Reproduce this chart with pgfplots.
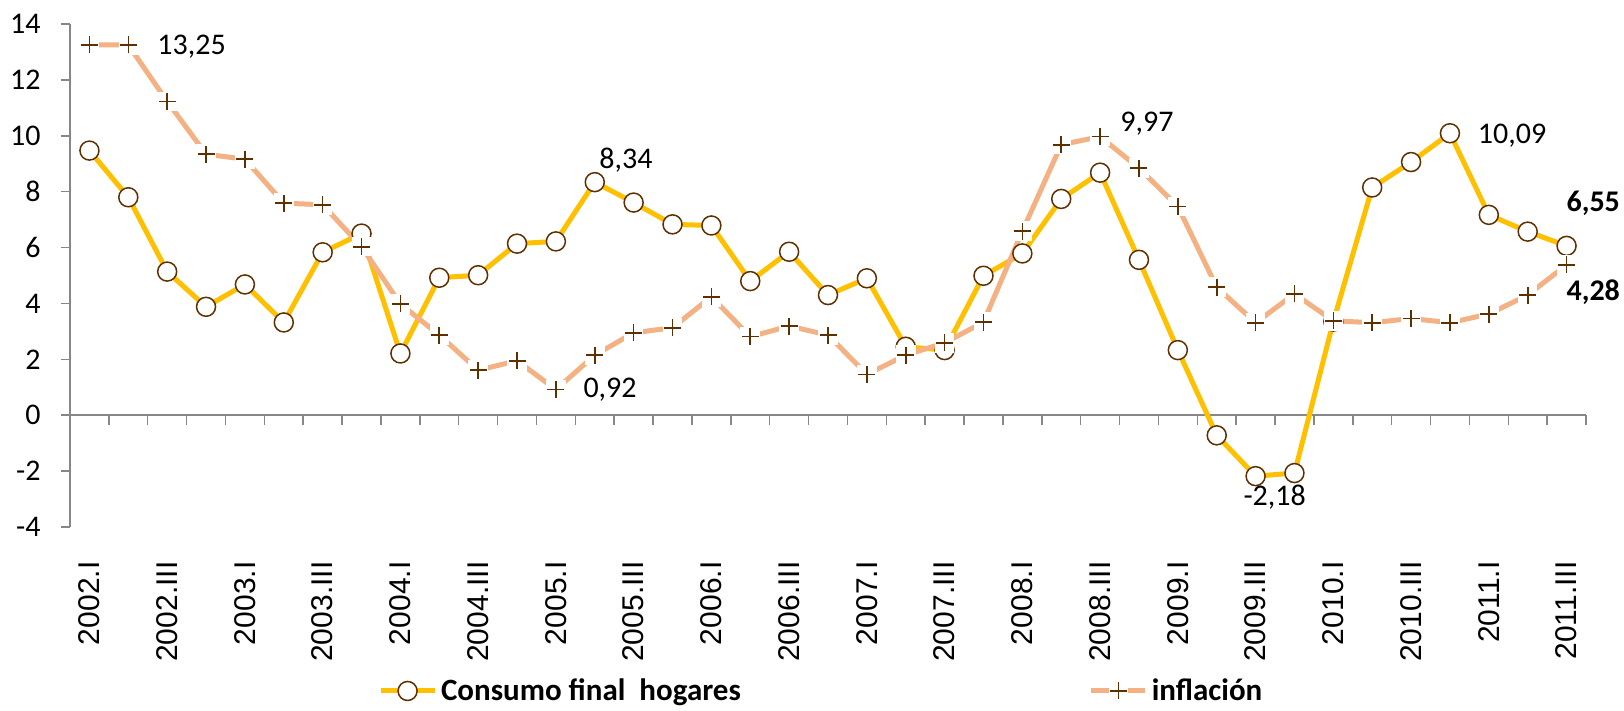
\documentclass[border=0pt]{standalone}
\usepackage{fontspec}
\setmainfont{Carlito}
\newfontfamily\arialfont{Liberation Sans}
\usepackage{pgfplots}
\pgfplotsset{compat=1.18}
\definecolor{cons}{HTML}{FFC000}
\definecolor{infl}{HTML}{F4B183}
\definecolor{mk}{HTML}{5E3000}
\definecolor{axc}{HTML}{878787}
\pgfdeclareplotmark{boxplus}{%
  \pgfpathrectangle{\pgfpoint{-1.15\pgfplotmarksize}{-1.15\pgfplotmarksize}}{\pgfpoint{2.3\pgfplotmarksize}{2.3\pgfplotmarksize}}%
  \pgfsetfillcolor{white}\pgfusepath{fill}%
  \pgfpathmoveto{\pgfpoint{-\pgfplotmarksize}{0pt}}\pgfpathlineto{\pgfpoint{\pgfplotmarksize}{0pt}}%
  \pgfpathmoveto{\pgfpoint{0pt}{-\pgfplotmarksize}}\pgfpathlineto{\pgfpoint{0pt}{\pgfplotmarksize}}%
  \pgfusepathqstroke}
\begin{document}
\begin{tikzpicture}
\begin{axis}[
  scale only axis, width=758pt, height=251.5pt,
  xmin=0.5, xmax=39.5, ymin=-4, ymax=14,
  axis y line*=left, axis x line*=middle,
  clip=false,
  axis line style={draw=axc, line width=0.75pt},
  ytick={-4,-2,...,14},
  yticklabels={-4,-2,0,2,4,6,8,10,12,14},
  yticklabel style={font=\fontsize{15}{18}\selectfont, inner sep=0pt},
  yticklabel shift=10pt,
  xtick={1,3,...,39},
  xticklabels={2002.I,2002.III,2003.I,2003.III,2004.I,2004.III,2005.I,2005.III,2006.I,2006.III,2007.I,2007.III,2008.I,2008.III,2009.I,2009.III,2010.I,2010.III,2011.I,2011.III},
  xticklabel style={font=\arialfont\fontsize{15}{18}\selectfont, rotate=90, anchor=east, inner sep=0pt},
  xticklabel shift=68.5pt,
  minor xtick={0.5,1.5,...,39.5},
  major x tick style={draw=none},
  tick style={draw=axc, line width=0.75pt},
  tick align=outside,
  major tick length=4.5pt,
  minor tick length=5pt,
  legend columns=2,
  legend style={draw=none, fill=none, at={(0.199,-0.326)}, anchor=west,
    font=\fontsize{15.5}{18}\selectfont\bfseries,
    /tikz/every even column/.append style={column sep=172pt}},
  legend image code/.code={\draw[mark repeat=2,mark phase=2,#1] plot coordinates {(0pt,0pt) (13.5pt,0pt) (27pt,0pt)};},
]
\addplot[cons, line width=2.5pt, mark=*, mark size=4.75pt,
  mark options={draw=mk, fill=white, line width=0.75pt, solid}]
  coordinates {
(1,9.47) (2,7.80) (3,5.14) (4,3.88) (5,4.68) (6,3.32) (7,5.83) (8,6.50)
(9,2.21) (10,4.92) (11,5.01) (12,6.14) (13,6.22) (14,8.34) (15,7.61) (16,6.83)
(17,6.79) (18,4.80) (19,5.85) (20,4.30) (21,4.90) (22,2.45) (23,2.33) (24,4.99)
(25,5.79) (26,7.74) (27,8.68) (28,5.56) (29,2.33) (30,-0.72) (31,-2.18) (32,-2.07)
(33,3.35) (34,8.15) (35,9.06) (36,10.09) (37,7.17) (38,6.57) (39,6.06)
};
\addlegendentry{Consumo final\ \ hogares}
\addplot[infl, line width=2.5pt, mark=boxplus, mark size=4.25pt,
  mark options={draw=mk, line width=0.8pt, solid}]
  coordinates {
(1,13.25) (2,13.25) (3,11.23) (4,9.34) (5,9.16) (6,7.59) (7,7.53) (8,6.03)
(9,3.98) (10,2.87) (11,1.61) (12,1.95) (13,0.92) (14,2.15) (15,2.95) (16,3.13)
(17,4.24) (18,2.81) (19,3.19) (20,2.87) (21,1.46) (22,2.15) (23,2.59) (24,3.33)
(25,6.59) (26,9.68) (27,9.97) (28,8.84) (29,7.47) (30,4.58) (31,3.31) (32,4.34)
(33,3.38) (34,3.31) (35,3.46) (36,3.31) (37,3.62) (38,4.30) (39,5.38)
};
\addlegendentry{inflación}
\begin{scope}[every node/.style={font=\fontsize{15}{18}\selectfont, inner sep=0pt, anchor=west}]
\node at (axis cs:2.74,13.18) {13,25};
\node at (axis cs:14.11,9.13) {8,34};
\node at (axis cs:13.7,0.9) {0,92};
\node at (axis cs:27.51,10.45) {9,97};
\node at (axis cs:36.71,10.02) {10,09};
\node at (axis cs:30.68,-2.94) {-2,18};
\node[font=\fontsize{15}{18}\selectfont\bfseries] at (axis cs:38.99,7.6) {6,55};
\node[font=\fontsize{15}{18}\selectfont\bfseries] at (axis cs:38.99,4.41) {4,28};
\end{scope}
\end{axis}
\pgfresetboundingbox
\path[use as bounding box] (-35pt,-92pt) rectangle (777pt,263.5pt);
\end{tikzpicture}
\end{document}
